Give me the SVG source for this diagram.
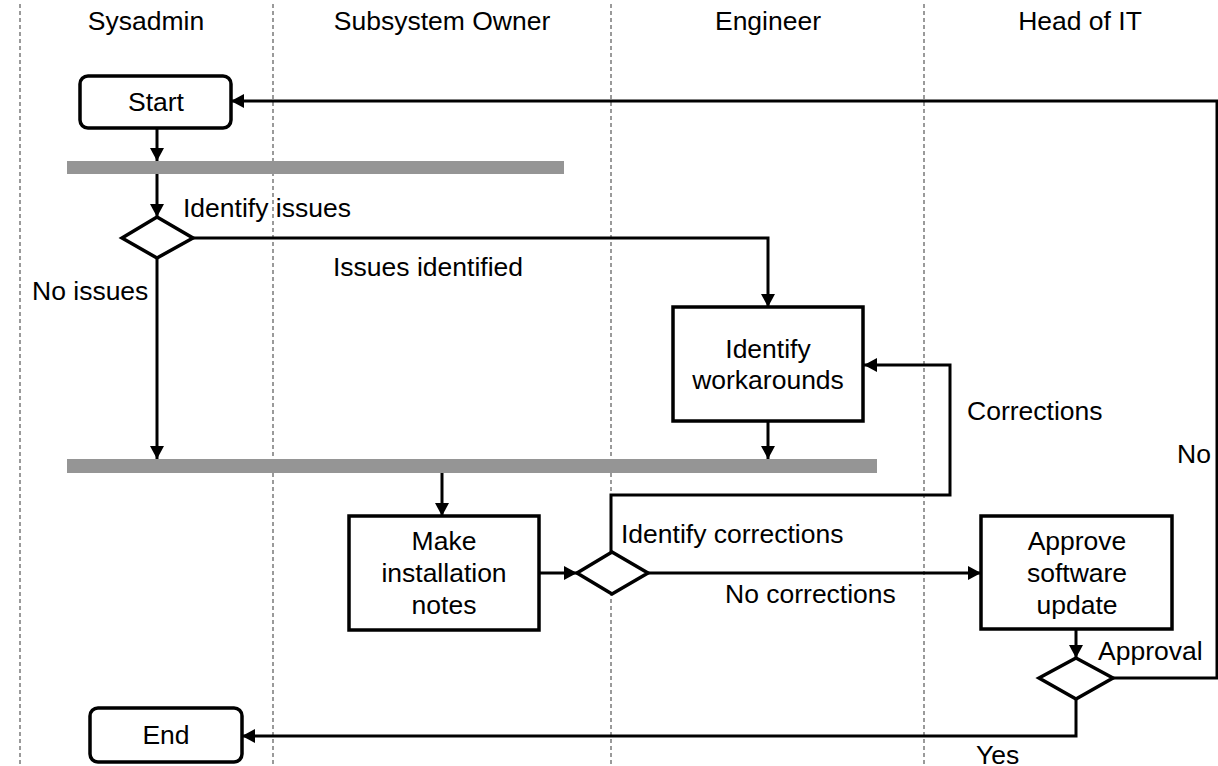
<svg xmlns="http://www.w3.org/2000/svg" width="1218" height="766" viewBox="0 0 1218 766">
  <style>
    text { font-family: "Liberation Sans", Arial, Helvetica, sans-serif; font-size: 26.5px; fill: #000; }
    .lane { stroke: #9a9a9a; stroke-width: 2; stroke-dasharray: 4 3; fill: none; }
    .box { fill: #fff; stroke: #000; stroke-width: 3.5; }
    .bar { fill: #959595; }
    .edge { fill: none; stroke: #000; stroke-width: 3; marker-end: url(#arrow); }
    .c { text-anchor: middle; }
  </style>
  <defs>
    <marker id="arrow" markerUnits="userSpaceOnUse" markerWidth="14" markerHeight="14" refX="13" refY="7" orient="auto">
      <path d="M0,0 L13,7 L0,14 z" fill="#000"/>
    </marker>
  </defs>
  <rect width="1218" height="766" fill="#fff"/>

  <!-- swimlane dividers and titles -->
  <g id="lanes">
    <line class="lane" x1="20" y1="4" x2="20" y2="766"/>
    <line class="lane" x1="273" y1="4" x2="273" y2="766"/>
    <line class="lane" x1="611" y1="4" x2="611" y2="766"/>
    <line class="lane" x1="924" y1="4" x2="924" y2="766"/>
    <text class="c" x="146" y="30">Sysadmin</text>
    <text class="c" x="442" y="30">Subsystem Owner</text>
    <text class="c" x="768" y="30">Engineer</text>
    <text class="c" x="1080" y="30">Head of IT</text>
  </g>

  <!-- connectors with their labels -->
  <g id="connectors">
    <path class="edge" d="M157,128 V161"/>
    <path class="edge" d="M157,174 V217"/>
    <path class="edge" d="M193,238 H768 V307"/>
    <path class="edge" d="M157,258 V459"/>
    <path class="edge" d="M768,421 V459"/>
    <path class="edge" d="M442,473 V516"/>
    <path class="edge" d="M539,573 H577"/>
    <path class="edge" d="M611,552 V495 H950 V365 H864"/>
    <path class="edge" d="M648,573 H981"/>
    <path class="edge" d="M1076,629 V658"/>
    <path class="edge" d="M1113,678 H1217 V101 H231"/>
    <path class="edge" d="M1076,699 V736 H242"/>
    <text x="183" y="217">Identify issues</text>
    <text x="333" y="276">Issues identified</text>
    <text x="32" y="300">No issues</text>
    <text x="967" y="420">Corrections</text>
    <text x="1177" y="463">No</text>
    <text x="621" y="543">Identify corrections</text>
    <text x="725" y="603">No corrections</text>
    <text x="1098" y="660">Approval</text>
    <text x="976" y="764">Yes</text>
  </g>

  <g id="start">
    <rect class="box" x="80" y="76" width="151" height="52" rx="8"/>
    <text class="c" x="156" y="111">Start</text>
  </g>

  <g id="fork1">
    <rect class="bar" x="67" y="161" width="497" height="13"/>
  </g>

  <g id="identify-issues">
    <polygon class="box" points="157,217 193,238 157,258 122,238"/>
  </g>

  <g id="identify-workarounds">
    <rect class="box" x="673" y="307" width="190" height="114"/>
    <text class="c" x="768" y="358">Identify</text>
    <text class="c" x="768" y="389">workarounds</text>
  </g>

  <g id="join1">
    <rect class="bar" x="67" y="459" width="810" height="14"/>
  </g>

  <g id="make-notes">
    <rect class="box" x="349" y="516" width="190" height="114"/>
    <text class="c" x="444" y="550">Make</text>
    <text class="c" x="444" y="582">installation</text>
    <text class="c" x="444" y="614">notes</text>
  </g>

  <g id="identify-corrections">
    <polygon class="box" points="612,552 648,573 612,594 577,573"/>
  </g>

  <g id="approve-update">
    <rect class="box" x="981" y="516" width="191" height="113"/>
    <text class="c" x="1077" y="550">Approve</text>
    <text class="c" x="1077" y="582">software</text>
    <text class="c" x="1077" y="614">update</text>
  </g>

  <g id="approval">
    <polygon class="box" points="1076,658 1113,678 1076,699 1039,678"/>
  </g>

  <g id="end">
    <rect class="box" x="90" y="708" width="152" height="54" rx="8"/>
    <text class="c" x="166" y="744">End</text>
  </g>
</svg>
